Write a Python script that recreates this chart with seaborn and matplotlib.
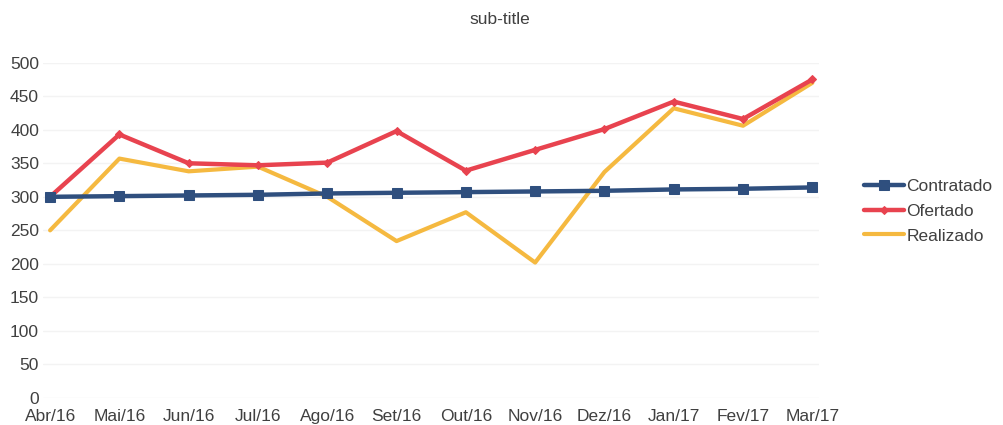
import matplotlib
matplotlib.use("Agg")
import matplotlib.pyplot as plt
import seaborn as sns
import pandas as pd

months = ["Abr/16", "Mai/16", "Jun/16", "Jul/16", "Ago/16", "Set/16",
          "Out/16", "Nov/16", "Dez/16", "Jan/17", "Fev/17", "Mar/17"]
contratado = [300, 301, 302, 303, 305, 306, 307, 308, 309, 311, 312, 314]
ofertado = [300, 393, 350, 347, 351, 398, 339, 370, 401, 442, 416, 475]
realizado = [250, 357, 338, 345, 300, 234, 277, 202, 337, 432, 406, 470]
yticks = [0, 50, 100, 150, 200, 250, 300, 350, 400, 450, 500]

sns.set_theme(style="white")
plt.rcParams['font.family'] = ['Liberation Sans', 'DejaVu Sans']

fig = plt.figure(figsize=(10.04, 4.25), dpi=100)
ax = fig.add_axes([0.043, 0.0635, 0.773, 0.789])

txt = '#404040'
series = [
    ("Contratado", contratado, '#2f4f7e', 's', 9, 3.2, 3),
    ("Ofertado", ofertado, '#e8434f', 'D', 4.5, 3.2, 2),
    ("Realizado", realizado, '#f5b940', None, 0, 3.0, 1),
]
x_idx = list(range(len(months)))
for name, vals, col, mk, ms, lw, z in series:
    df = pd.DataFrame({"x": x_idx, "y": vals})
    sns.lineplot(data=df, x="x", y="y", ax=ax, color=col, linewidth=lw,
                 marker=mk if mk else '', markersize=ms, markeredgecolor=col,
                 markerfacecolor=col, label=name, zorder=z, sort=False,
                 legend=False)

ax.set_xlim(-0.1, 11.1)
ax.set_ylim(0, 500)
ax.set_xticks(x_idx)
ax.set_xticklabels(months)
ax.set_yticks(yticks)
ax.set_xlabel("")
ax.set_ylabel("")
ax.tick_params(axis='both', length=0, labelsize=12.5, colors=txt)
ax.tick_params(axis='x', pad=8)
ax.tick_params(axis='y', pad=3)
ax.grid(axis='y', color='#f3f3f3', linewidth=1)
for s in ax.spines.values():
    s.set_visible(False)

fig.text(0.498, 0.955, "sub-title", ha='center', va='center', fontsize=12.5, color=txt)

handles, labels = ax.get_legend_handles_labels()
for h in handles:
    h.set_markersize(min(h.get_markersize(), 7))
fig.legend(handles, labels, loc='center left', bbox_to_anchor=(0.845, 0.503),
           frameon=False, fontsize=12.5, labelcolor=txt, handlelength=2.3,
           handletextpad=0.15, labelspacing=0.55)

fig.savefig("out.png", dpi=100)
